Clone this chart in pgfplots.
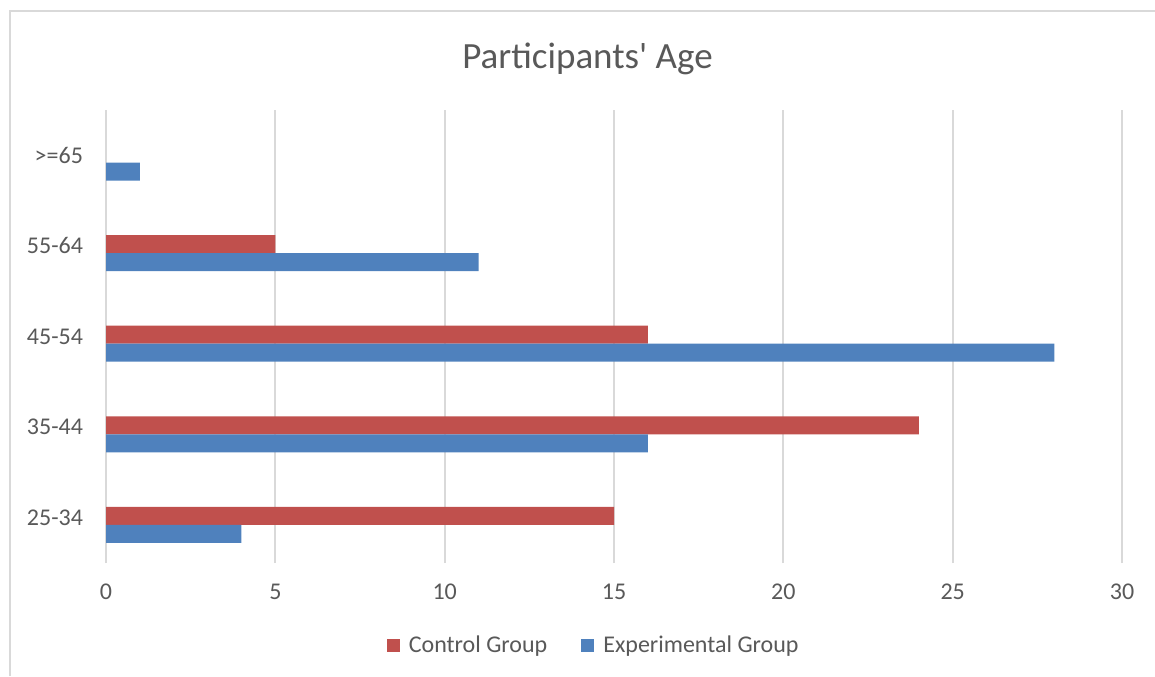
\documentclass[border=0pt]{standalone}
\usepackage{fontspec}
\setmainfont{Carlito}
\usepackage{pgfplots}
\pgfplotsset{compat=1.18}
\definecolor{ctrl}{HTML}{C0504D}
\definecolor{expt}{HTML}{4F81BD}
\definecolor{txt}{HTML}{595959}
\definecolor{gridc}{HTML}{D9D9D9}
\begin{document}
\begin{tikzpicture}
% page = 1155 x 676 px at 0.5pt per px
\useasboundingbox (0,0) rectangle (577.5pt,338pt);
\draw[gridc, line width=1pt] (5pt,0) -- (5pt,332.5pt) -- (577.5pt,332.5pt);
\node[text=txt, font=\fontsize{18.5}{20}\selectfont] at (293.75pt,308.5pt) {Participants\textquotesingle{} Age};
\begin{axis}[
    at={(53pt,56.5pt)}, anchor=south west,
    scale only axis, width=508pt, height=226.5pt,
    xbar, bar width=9pt,
    xmin=0, xmax=30, ymin=-0.5, ymax=4.5,
    xtick={0,5,...,30}, ytick={0,1,2,3,4},
    yticklabels={25-34,35-44,45-54,55-64,>=65},
    xmajorgrids, grid style={gridc, line width=1pt},
    axis line style={draw=none}, major tick length=0pt,
    tick label style={font=\fontsize{12}{14}\selectfont, text=txt},
    /pgf/number format/assume math mode=true,
    xticklabel style={yshift=-7pt},
    yticklabel style={xshift=-8pt},
    legend style={at={(0.481,-0.183)}, anchor=center, draw=none,
        font=\fontsize{12}{14}\selectfont, text=txt, legend columns=2,
        /tikz/every even column/.append style={column sep=15pt}},
    legend cell align=left,
    legend image code/.code={\path[fill] (0pt,-3.25pt) rectangle (6.5pt,3.25pt);},
]
\addplot[fill=ctrl, draw=none, bar shift=0.9pt] coordinates {
    (15,0) (24,1) (16,2) (5,3)
};
\addplot[fill=expt, draw=none, bar shift=-8.1pt] coordinates {
    (4,0) (16,1) (28,2) (11,3) (1,4)
};
\legend{\hspace{2.5pt}Control Group, \hspace{2.5pt}Experimental Group}
\end{axis}
\end{tikzpicture}
\end{document}
